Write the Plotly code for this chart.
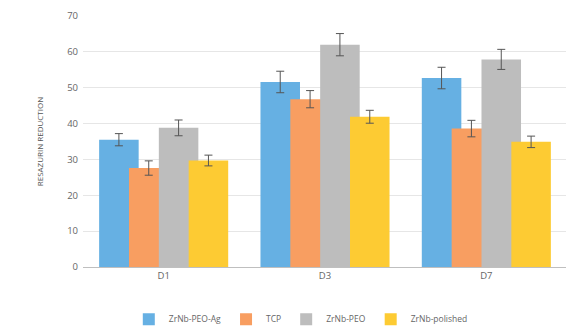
import plotly.graph_objects as go

categories = ["D1", "D3", "D7"]
series_names = ["ZrNb-PEO-Ag", "TCP", "ZrNb-PEO", "ZrNb-polished"]
values = {
    "ZrNb-PEO-Ag": [35.5, 51.6, 52.7],
    "TCP": [27.6, 46.8, 38.6],
    "ZrNb-PEO": [38.8, 62.0, 57.9],
    "ZrNb-polished": [29.7, 41.9, 34.9],
}
errors = {
    "ZrNb-PEO-Ag": [1.7, 3.0, 3.0],
    "TCP": [2.0, 2.4, 2.3],
    "ZrNb-PEO": [2.2, 3.1, 2.8],
    "ZrNb-polished": [1.5, 1.8, 1.6],
}
colors = ["#66B0E3", "#F89E61", "#BDBDBD", "#FDCB33"]
offsets = [-0.4, -0.215, -0.03, 0.155]
bar_width = 0.245

fig = go.Figure()
for name, col, off in zip(series_names, colors, offsets):
    fig.add_trace(go.Bar(
        x=categories, y=values[name], name=name,
        marker=dict(color=col, line=dict(width=0)),
        offset=off, width=bar_width,
        error_y=dict(type="data", array=errors[name], color="#555555",
                     thickness=1, width=4),
    ))

fig.update_layout(
    width=566, height=322,
    margin=dict(l=75, r=7, t=8, b=63, autoexpand=False),
    paper_bgcolor="white", plot_bgcolor="white",
    barmode="group",
    font=dict(family="Open Sans, Liberation Sans, sans-serif", color="#666666", size=9),
    showlegend=True,
    legend=dict(orientation="h", x=0.45, xanchor="center", y=-0.15, yanchor="top",
                font=dict(size=8.5, color="#666666"), itemwidth=30,
                tracegroupgap=0, traceorder="normal"),
    xaxis=dict(showline=True, linecolor="#BFBFBF", linewidth=1, automargin=False,
               tickfont=dict(size=9.5, color="#666666"), ticks="", showgrid=False),
    yaxis=dict(range=[0, 70], dtick=10, showgrid=True, gridcolor="#E6E6E6",
               zeroline=False, ticks="", automargin=False, ticklabelstandoff=4,
               ticklabeloverflow="allow",
               tickfont=dict(size=9.5, color="#666666"),
               title=dict(text="RESAZURIN REDUCTION", font=dict(size=8, color="#555555"),
                          standoff=22)),
)

fig.write_html("out.html")
